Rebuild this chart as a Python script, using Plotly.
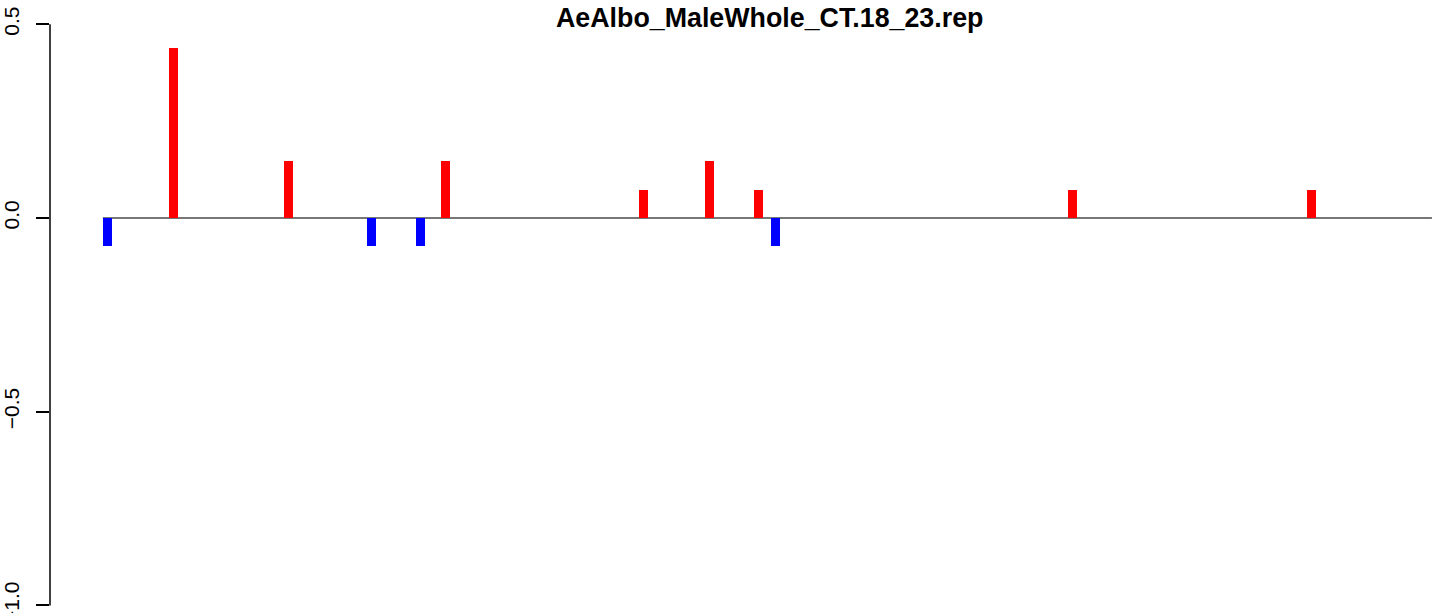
import plotly.graph_objects as go

# Data
title_text = "AeAlbo_MaleWhole_CT.18_23.rep"
positions = [0, 8, 22, 32, 38, 41, 65, 73, 79, 81, 117, 146]
values = [-0.073, 0.44, 0.146, -0.073, -0.073, 0.146, 0.073, 0.146, 0.073, -0.073, 0.073, 0.073]
zero_span = [-0.5, 160.6]
y_ticks = [-1.0, -0.5, 0.0, 0.5]
y_tick_labels = ["\u22121.0", "\u22120.5", "0.0", "0.5"]

colors = ["#FF0000" if v > 0 else "#0000FF" for v in values]

fig = go.Figure()
fig.add_trace(go.Bar(
    x=positions, y=values, base=0, width=1.09,
    marker=dict(color=colors, line=dict(width=0)),
    showlegend=False, hoverinfo="x+y",
))

fig.add_shape(type="line", xref="x", yref="y",
              x0=zero_span[0], x1=zero_span[1], y0=0, y1=0,
              line=dict(color="#4a4a4a", width=1.3), layer="below")
# y axis line spanning tick range
fig.add_shape(type="line", xref="paper", yref="y",
              x0=0, x1=0, y0=min(y_ticks), y1=max(y_ticks),
              line=dict(color="black", width=1.5))

fig.add_annotation(text="<b>" + title_text + "</b>", xref="paper", yref="paper",
                   x=(769 - 50) / 1394, y=1 - 18 / 613, xanchor="center", yanchor="middle",
                   showarrow=False, font=dict(family="Liberation Sans, Arial", size=26.8, color="black"))

fig.update_layout(
    width=1444, height=613,
    margin=dict(l=50, r=0, t=0, b=0, autoexpand=False),
    paper_bgcolor="white", plot_bgcolor="white",
    bargap=0,
    font=dict(family="Liberation Sans, Arial", size=21, color="black"),
    xaxis=dict(range=[-6.909, 162.06], visible=False, showgrid=False, zeroline=False,
               automargin=False),
    yaxis=dict(range=[-(613 - 218) / 387.4, 218 / 387.4], showgrid=False, zeroline=False,
               showline=False, tickmode="array", tickvals=y_ticks, ticktext=y_tick_labels,
               ticks="outside", ticklen=13, tickwidth=1.5, tickcolor="black",
               tickangle=-90, ticklabelstandoff=9, automargin=False,
               ticklabeloverflow="allow"),
)

fig.write_html("out.html", config={"displayModeBar": False},
               post_script="document.body.style.margin='0';document.body.style.overflow='hidden';")
